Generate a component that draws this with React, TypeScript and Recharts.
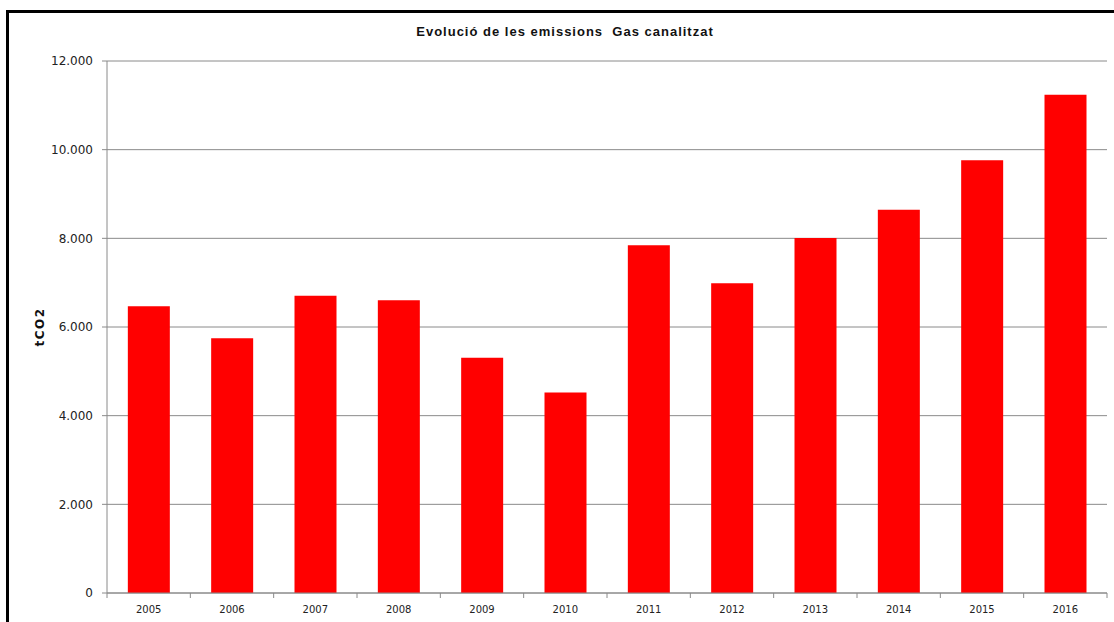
import { Bar, BarChart, CartesianGrid, XAxis, YAxis } from "recharts";

const years = ["2005", "2006", "2007", "2008", "2009", "2010", "2011", "2012", "2013", "2014", "2015", "2016"];
const emissions = [6470, 5745, 6705, 6605, 5308, 4520, 7845, 6985, 8008, 8645, 9762, 11240];
const yTicks = [0, 2000, 4000, 6000, 8000, 10000, 12000];

const data = years.map((year, i) => ({ year, value: emissions[i] }));

const W = 1114;
const H = 622;
const margin = { top: 61, right: 7, bottom: 0, left: 0 };
const xAxisHeight = 29;
const yAxisWidth = 107;
const band = (W - margin.left - margin.right - yAxisWidth) / years.length;
const grey = "#8a8a8a";

function fmt(v: number) {
  return String(v).replace(/\B(?=(\d{3})+(?!\d))/g, ".");
}

function XTick(props: any) {
  const { x, y, payload, index } = props;
  return (
    <g>
      <line x1={x - band / 2} x2={x - band / 2} y1={y} y2={y + 5} stroke={grey} />
      {index === years.length - 1 && (
        <line x1={x + band / 2} x2={x + band / 2} y1={y} y2={y + 5} stroke={grey} />
      )}
      <text x={x} y={y + 20} textAnchor="middle" fontFamily="DejaVu Sans" fontSize={10} fill="#222">
        {payload.value}
      </text>
    </g>
  );
}

function YLabel(props: any) {
  const vb = props.viewBox || { x: 0, y: margin.top, width: yAxisWidth, height: H - margin.top - xAxisHeight };
  const cx = vb.x + 40;
  const cy = vb.y + vb.height / 2;
  return (
    <text
      x={cx}
      y={cy}
      transform={`rotate(-90 ${cx} ${cy})`}
      textAnchor="middle"
      dominantBaseline="central"
      fontFamily="DejaVu Sans"
      fontWeight="bold"
      fontSize={12}
      letterSpacing={1.5}
      fill="#111"
    >
      tCO2
    </text>
  );
}

export default function App() {
  return (
    <div style={{ position: "absolute", left: 0, top: 0, width: W, height: H, background: "#fff", overflow: "hidden" }}>
      <div
        style={{
          position: "absolute",
          left: 6,
          top: 10,
          width: W,
          height: H,
          borderTop: "3px solid #000",
          borderLeft: "3px solid #000",
          boxSizing: "border-box",
        }}
      />
      <div
        style={{
          position: "absolute",
          left: 0,
          top: 24,
          width: 1130,
          textAlign: "center",
          fontFamily: "Liberation Sans, Arial, sans-serif",
          fontWeight: "bold",
          fontSize: 13,
          letterSpacing: 1,
          lineHeight: "16px",
          color: "#111",
          whiteSpace: "pre",
        }}
      >
        {"Evolució de les emissions  Gas canalitzat"}
      </div>
      <div style={{ position: "absolute", left: 0, top: 0 }}>
        <BarChart width={W} height={H} data={data} margin={margin} barCategoryGap="25%">
          <CartesianGrid vertical={false} stroke={grey} />
          <XAxis
            dataKey="year"
            height={xAxisHeight}
            axisLine={{ stroke: grey }}
            tickLine={false}
            tickSize={0}
            tickMargin={0}
            interval={0}
            tick={<XTick />}
          />
          <YAxis
            width={yAxisWidth}
            domain={[0, 12000]}
            ticks={yTicks}
            interval={0}
            axisLine={{ stroke: grey }}
            tickLine={{ stroke: grey }}
            tickSize={5}
            tickMargin={9}
            tickFormatter={(v) => fmt(Number(v))}
            tick={{ fontFamily: "DejaVu Sans", fontSize: 12, fill: "#222" }}
            label={<YLabel />}
          />
          <Bar dataKey="value" fill="#ff0000" isAnimationActive={false} />
        </BarChart>
      </div>
    </div>
  );
}
